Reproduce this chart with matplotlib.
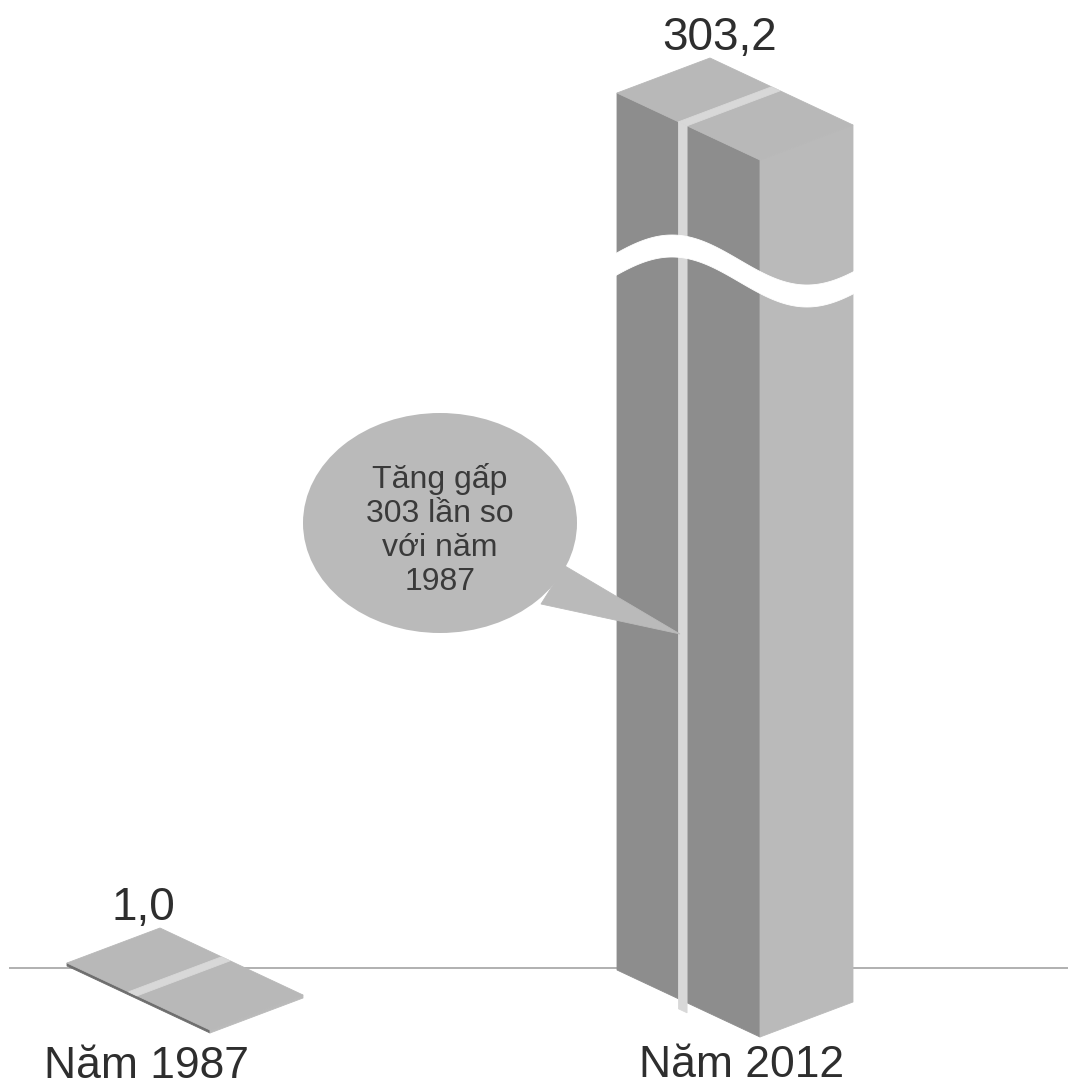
"""Isometric 'broken column' comparison: 1987 vs 2012."""

import numpy as np
import matplotlib

matplotlib.use("Agg")
import matplotlib.pyplot as plt
from matplotlib.patches import Ellipse, Polygon

# --- data -------------------------------------------------------------------
years = ["Năm 1987", "Năm 2012"]
values = [1.0, 303.2]
value_labels = ["1,0", "303,2"]
note = "Tăng gấp\n303 lần so\nvới năm\n1987"

# --- layout (canvas in pixel units, y pointing down) ------------------------
W, H = 1068, 1088
BASE = [(67, 966), (617, 970)]          # left-bottom corner of each box
YEAR_POS = [(146, 1078), (742, 1077)]   # baseline centre of the year labels
FRONT = np.array([143.0, 67.0])         # box edge running towards the viewer
DEPTH = np.array([93.0, -35.0])         # box edge running away
PX_PER_UNIT = 3.0
BREAK_AT = 50.0                         # columns above this get a break
BROKEN_HEIGHT = 877.0

LEFT_C, RIGHT_C, TOP_C, GAP_C = "#8d8d8d", "#bababa", "#b8b8b8", "#d8d8d8"
TEXT_C = "#2e2e2e"
FONT = ["Liberation Sans", "DejaVu Sans"]


def poly(ax, pts, color, z):
    ax.add_patch(Polygon(np.array(pts), closed=True, facecolor=color,
                         edgecolor=color, lw=0.6, zorder=z))


def draw_box(ax, base, h, split=0.43, gap=0.06, z=2):
    p = np.array(base, dtype=float)
    up = np.array([0.0, -h])
    F, D = FRONT, DEPTH
    poly(ax, [p, p + F, p + F + up, p + up], LEFT_C if h > 10 else "#6e6e6e", z)
    poly(ax, [p + F, p + F + D, p + F + D + up, p + F + up], RIGHT_C, z)
    poly(ax, [p + up, p + up + F, p + up + F + D, p + up + D], TOP_C, z)
    a, b = p + split * F, p + (split + gap) * F
    if h > 10:
        drop = np.array([0.0, 10.0])
        poly(ax, [a + drop, b + drop, b + up, a + up], GAP_C, z + 0.1)
    poly(ax, [a + up, b + up, b + up + D, a + up + D], GAP_C, z + 0.1)
    return p + up + D  # back-top vertex


fig = plt.figure(figsize=(W / 100, H / 100), dpi=100)
ax = fig.add_axes([0, 0, 1, 1])
ax.set_xlim(0, W)
ax.set_ylim(H, 0)
ax.axis("off")

# ground line
ax.plot([10, W], [968, 968], color="#b0b0b0", lw=1.4, zorder=0)

for i, (val, lab) in enumerate(zip(values, value_labels)):
    broken = val > BREAK_AT
    h = BROKEN_HEIGHT if broken else val * PX_PER_UNIT
    back = draw_box(ax, BASE[i], h)

    if broken:
        x0 = BASE[i][0]
        xs = np.linspace(x0 - 6, x0 + FRONT[0] + DEPTH[0] + 6, 200)
        mid = (BASE[i][1] - h) + 178 - 25 * np.cos(2 * np.pi * (xs - x0 - 55) / 270)
        band = np.concatenate([np.c_[xs, mid - 11], np.c_[xs[::-1], mid[::-1] + 11]])
        poly(ax, band, "white", 3)

    ax.text(back[0] + (10 if broken else -17), back[1] - 8, lab, ha="center",
            va="baseline", fontsize=33, color=TEXT_C, family=FONT)
    ax.text(YEAR_POS[i][0], YEAR_POS[i][1], years[i], ha="center",
            va="baseline", fontsize=32, color=TEXT_C, family=FONT)

# speech bubble
BUBBLE_C = "#bababa"
ax.add_patch(Ellipse((440, 523), 274, 220, facecolor=BUBBLE_C, edgecolor="none", zorder=5))
poly(ax, [(565, 566), (541, 604), (680, 634)], BUBBLE_C, 5)
ax.text(440, 530, note, ha="center", va="center", fontsize=23, linespacing=1.18,
        color="#3a3a3a", family=FONT, zorder=6)

fig.savefig("out.png", dpi=100, facecolor="white")
